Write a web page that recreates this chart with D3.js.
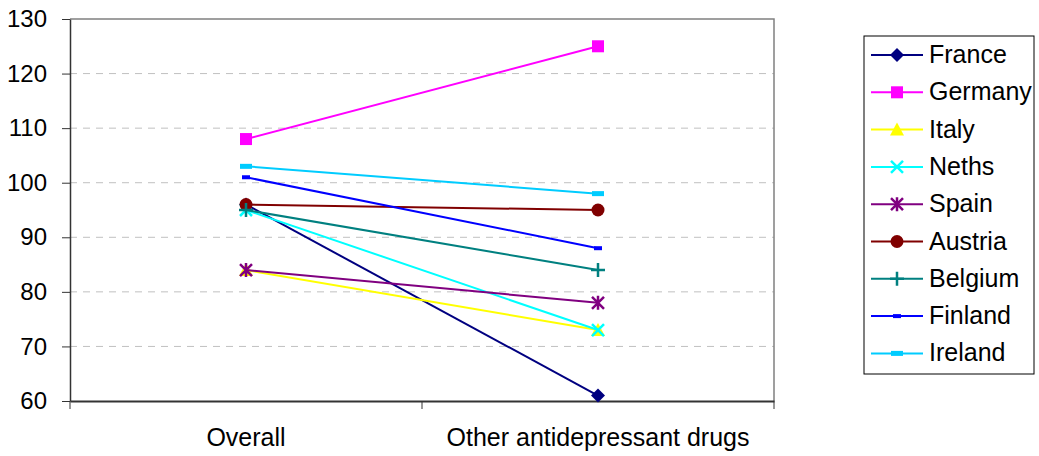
<!DOCTYPE html>
<html>
<head>
<meta charset="utf-8">
<script src="https://cdn.jsdelivr.net/npm/d3@7"></script>
<style>
  body { margin: 0; background: #fff; }
  svg { font-family: "Liberation Sans", Arial, sans-serif; }
</style>
</head>
<body>
<svg id="chart" width="1039" height="456"></svg>
<script>
// Categories on the x axis
const categories = ["Overall", "Other antidepressant drugs"];
// Country series, one value per category
const countries = ["France", "Germany", "Italy", "Neths", "Spain", "Austria", "Belgium", "Finland", "Ireland"];
const France  = [96, 61];
const Germany = [108, 125];
const Italy   = [84, 73];
const Neths   = [95, 73];
const Spain   = [84, 78];
const Austria = [96, 95];
const Belgium = [95, 84];
const Finland = [101, 88];
const Ireland = [103, 98];
const yTicks = [60, 70, 80, 90, 100, 110, 120, 130];

const seriesValues = [France, Germany, Italy, Neths, Spain, Austria, Belgium, Finland, Ireland];
const colors = ["#000080", "#FF00FF", "#FFFF00", "#00FFFF", "#800080", "#800000", "#008080", "#0000FF", "#00CCFF"];
const markers = ["diamond", "square", "triangle", "x", "star", "circle", "plus", "dash", "longdash"];

const svg = d3.select("#chart");
const plotLeft = 70, plotRight = 774, plotTop = 19, plotBottom = 401;

const x = d3.scaleBand().domain(categories).range([plotLeft, plotRight]);
const y = d3.scaleLinear().domain([60, 130]).range([plotBottom, plotTop]);

// Gridlines
svg.append("g").selectAll("line").data(yTicks.filter(t => t > 60 && t < 130)).join("line")
  .attr("x1", plotLeft).attr("x2", plotRight)
  .attr("y1", d => y(d)).attr("y2", d => y(d))
  .attr("stroke", "#c0c0c0").attr("stroke-width", 1).attr("stroke-dasharray", "7,6");

// Plot area border (top/right)
svg.append("path")
  .attr("d", `M${plotLeft},${plotTop}H${plotRight}V${plotBottom}`)
  .attr("fill", "none").attr("stroke", "#808080").attr("stroke-width", 1.5);

// Y axis
const yAxis = d3.axisLeft(y).tickValues(yTicks).tickSize(8).tickSizeOuter(0).tickPadding(15);
const gy = svg.append("g").attr("transform", `translate(${plotLeft},0)`).call(yAxis);
gy.select(".domain").attr("stroke", "#333").attr("stroke-width", 1.5);
gy.selectAll(".tick line").attr("stroke", "#333");
gy.selectAll("text").attr("font-size", 24).attr("fill", "#000")
  .attr("font-family", "Liberation Sans, Arial, sans-serif");

// X axis
const xAxis = d3.axisBottom(x).tickSize(0).tickPadding(27);
const gx = svg.append("g").attr("transform", `translate(0,${plotBottom})`).call(xAxis);
gx.select(".domain").attr("stroke", "#333").attr("stroke-width", 2);
gx.selectAll("text").attr("font-size", 25).attr("fill", "#000")
  .attr("font-family", "Liberation Sans, Arial, sans-serif");
// Category boundary ticks
const bounds = [plotLeft, plotLeft + x.step(), plotRight];
svg.append("g").selectAll("line").data(bounds).join("line")
  .attr("x1", d => d).attr("x2", d => d)
  .attr("y1", plotBottom).attr("y2", plotBottom + 8)
  .attr("stroke", "#333").attr("stroke-width", 1);

function drawMarker(g, type, color, cx, cy) {
  switch (type) {
    case "diamond":
      g.append("path").attr("d", `M${cx},${cy-7}L${cx+7},${cy}L${cx},${cy+7}L${cx-7},${cy}Z`).attr("fill", color);
      break;
    case "square":
      g.append("rect").attr("x", cx-6).attr("y", cy-6).attr("width", 12).attr("height", 12).attr("fill", color);
      break;
    case "triangle":
      g.append("path").attr("d", `M${cx},${cy-7}L${cx+7},${cy+6}L${cx-7},${cy+6}Z`).attr("fill", color);
      break;
    case "x":
      g.append("path").attr("d", `M${cx-6},${cy-6}L${cx+6},${cy+6}M${cx+6},${cy-6}L${cx-6},${cy+6}`)
        .attr("stroke", color).attr("stroke-width", 2.5).attr("fill", "none");
      break;
    case "star":
      g.append("path").attr("d", `M${cx-6},${cy-6}L${cx+6},${cy+6}M${cx+6},${cy-6}L${cx-6},${cy+6}M${cx},${cy-7}V${cy+7}`)
        .attr("stroke", color).attr("stroke-width", 2.5).attr("fill", "none");
      break;
    case "circle":
      g.append("circle").attr("cx", cx).attr("cy", cy).attr("r", 6.5).attr("fill", color);
      break;
    case "plus":
      g.append("path").attr("d", `M${cx-7},${cy}H${cx+7}M${cx},${cy-7}V${cy+7}`)
        .attr("stroke", color).attr("stroke-width", 2.5).attr("fill", "none");
      break;
    case "dash":
      g.append("rect").attr("x", cx-4).attr("y", cy-2).attr("width", 8).attr("height", 4).attr("fill", color);
      break;
    case "longdash":
      g.append("rect").attr("x", cx-6).attr("y", cy-2.5).attr("width", 12).attr("height", 5).attr("fill", color);
      break;
  }
}

// Series lines and markers
const line = d3.line().x((d, i) => x(categories[i]) + x.bandwidth() / 2).y(d => y(d));
countries.forEach((name, k) => {
  const g = svg.append("g");
  g.append("path").datum(seriesValues[k]).attr("d", line)
    .attr("fill", "none").attr("stroke", colors[k]).attr("stroke-width", 2);
  seriesValues[k].forEach((v, i) => {
    drawMarker(g, markers[k], colors[k], x(categories[i]) + x.bandwidth() / 2, y(v));
  });
});

// Legend
const lg = svg.append("g");
lg.append("rect").attr("x", 864).attr("y", 36).attr("width", 170).attr("height", 338)
  .attr("fill", "#fff").attr("stroke", "#000").attr("stroke-width", 1);
countries.forEach((name, k) => {
  const ly = 55 + k * 37.3;
  lg.append("line").attr("x1", 871).attr("x2", 923).attr("y1", ly).attr("y2", ly)
    .attr("stroke", colors[k]).attr("stroke-width", 2);
  drawMarker(lg, markers[k], colors[k], 897, ly);
  lg.append("text").attr("x", 929).attr("y", ly + 8).attr("font-size", 25).text(name);
});
</script>
</body>
</html>
